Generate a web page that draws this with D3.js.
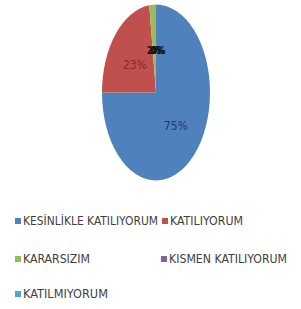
<!DOCTYPE html>
<html><head><meta charset="utf-8">
<script src="https://cdn.jsdelivr.net/npm/d3@7"></script>
<style>html,body{margin:0;padding:0;background:#fff;}</style>
</head><body>
<svg id="c" width="301" height="309"></svg>
<script>
const categories = ["KESİNLİKLE KATILIYORUM","KATILIYORUM","KARARSIZIM","KISMEN KATILIYORUM","KATILMIYORUM"];
const values = [75, 23, 2, 0, 0];
const labels = ["75%","23%","2%","0%","0%"];
const colors = ["#4F81BD","#C0504D","#9BBB59","#8064A2","#4BACC6"];
const labelColors = ["#1F3864","#8B2A27","#111","#111","#111"];

const svg = d3.select("#c");
const cx = 156, cy = 92.5, rx = 54, ry = 88;
const pie = d3.pie().sort(null).value(d => d).startAngle(0).endAngle(2*Math.PI);
const arcs = pie(values);
const arc = d3.arc().innerRadius(0).outerRadius(rx);
const g = svg.append("g").attr("transform", `translate(${cx},${cy}) scale(1,${ry/rx})`);
g.selectAll("path").data(arcs).join("path")
  .attr("d", arc).attr("fill", (d,i) => colors[i]);

const font = "'Liberation Sans Narrow','Arial Narrow','DejaVu Sans Condensed',sans-serif";
const lab = svg.append("g").attr("transform", `translate(${cx},${cy + 2.5})`);
lab.selectAll("text").data(arcs).join("text")
  .attr("x", (d,i) => { const a=(d.startAngle+d.endAngle)/2; return Math.sin(a)*rx*0.52 + (i>=2 ? (i-3)*1.5 + 1 : 0); })
  .attr("y", d => { const a=(d.startAngle+d.endAngle)/2; return -Math.cos(a)*ry*0.5; })
  .attr("text-anchor","middle").attr("dominant-baseline","middle")
  .attr("font-family", font)
  .attr("font-size", (d,i) => i>=2 ? 11 : 12)
  .attr("font-weight", (d,i) => i>=2 ? "bold" : "normal")
  .attr("fill", (d,i) => labelColors[i])
  .attr("textLength", (d,i) => i>=2 ? 14 : 24).attr("lengthAdjust","spacingAndGlyphs")
  .text((d,i) => labels[i]);

const legPos = [[15,221],[162,221],[15,259],[161,259],[15,294]];
const legW = [135,73,67,118,85];
const leg = svg.append("g");
categories.forEach((c,i) => {
  const [x,y] = legPos[i];
  leg.append("rect").attr("x",x).attr("y",y-3).attr("width",6).attr("height",6).attr("fill",colors[i]);
  leg.append("text").attr("x",x+8).attr("y",y).attr("dominant-baseline","middle")
    .attr("font-family", font)
    .attr("font-size",12.5).attr("fill","#404040")
    .attr("textLength",legW[i]).attr("lengthAdjust","spacingAndGlyphs")
    .text(c);
});
</script>
</body></html>
